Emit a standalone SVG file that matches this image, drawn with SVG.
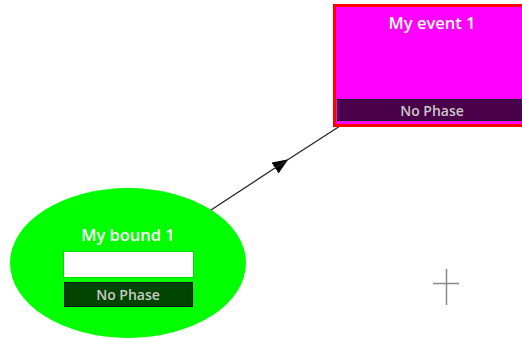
<svg xmlns="http://www.w3.org/2000/svg" width="522" height="339" viewBox="0 0 522 339">
<style>
.title{font-family:"Open Sans","DejaVu Sans",sans-serif;font-weight:600;font-size:16.5px;fill:#ffffff;text-anchor:middle}
.phase{font-family:"Open Sans","DejaVu Sans",sans-serif;font-weight:600;font-size:14px;fill:#c8c8c8;text-anchor:middle}
.conn{stroke:#222;stroke-width:1.2;fill:none}
</style>
<defs>
<marker id="arr" markerWidth="16" markerHeight="13" refX="0" refY="6.5" orient="auto" markerUnits="userSpaceOnUse">
<path d="M0,0 L16,6.5 L0,13 Z" fill="#000"/>
</marker>
</defs>
<rect width="522" height="339" fill="#fff"/>
<g id="connectors">
<line class="conn" x1="211" y1="210" x2="275" y2="168" marker-end="url(#arr)"/>
<line class="conn" x1="275" y1="168" x2="340" y2="126"/>
</g>
<g id="event1">
<rect x="334.5" y="5.5" width="200" height="120" fill="#ff00ff" stroke="#ff0000" stroke-width="3"/>
<rect x="337.5" y="99.5" width="194" height="21" fill="#4a004a" stroke="#222" stroke-width="1"/>
<text class="title" x="432" y="29">My event 1</text>
<text class="phase" x="432" y="116">No Phase</text>
</g>
<g id="bound1">
<ellipse cx="128" cy="263" rx="118" ry="75" fill="#00ff00"/>
<text class="title" x="128" y="241">My bound 1</text>
<rect x="63.5" y="251.5" width="130" height="26" fill="#ffffff" stroke="#00dd00" stroke-width="1"/>
<rect x="64.5" y="282.5" width="128" height="24" fill="#004400" stroke="#111" stroke-width="1"/>
<text class="phase" x="128" y="300">No Phase</text>
</g>
<g id="crosshair" stroke="#888" stroke-width="1.5">
<line x1="433" y1="283.5" x2="459" y2="283.5"/>
<line x1="446.5" y1="269" x2="446.5" y2="305"/>
</g>
</svg>
